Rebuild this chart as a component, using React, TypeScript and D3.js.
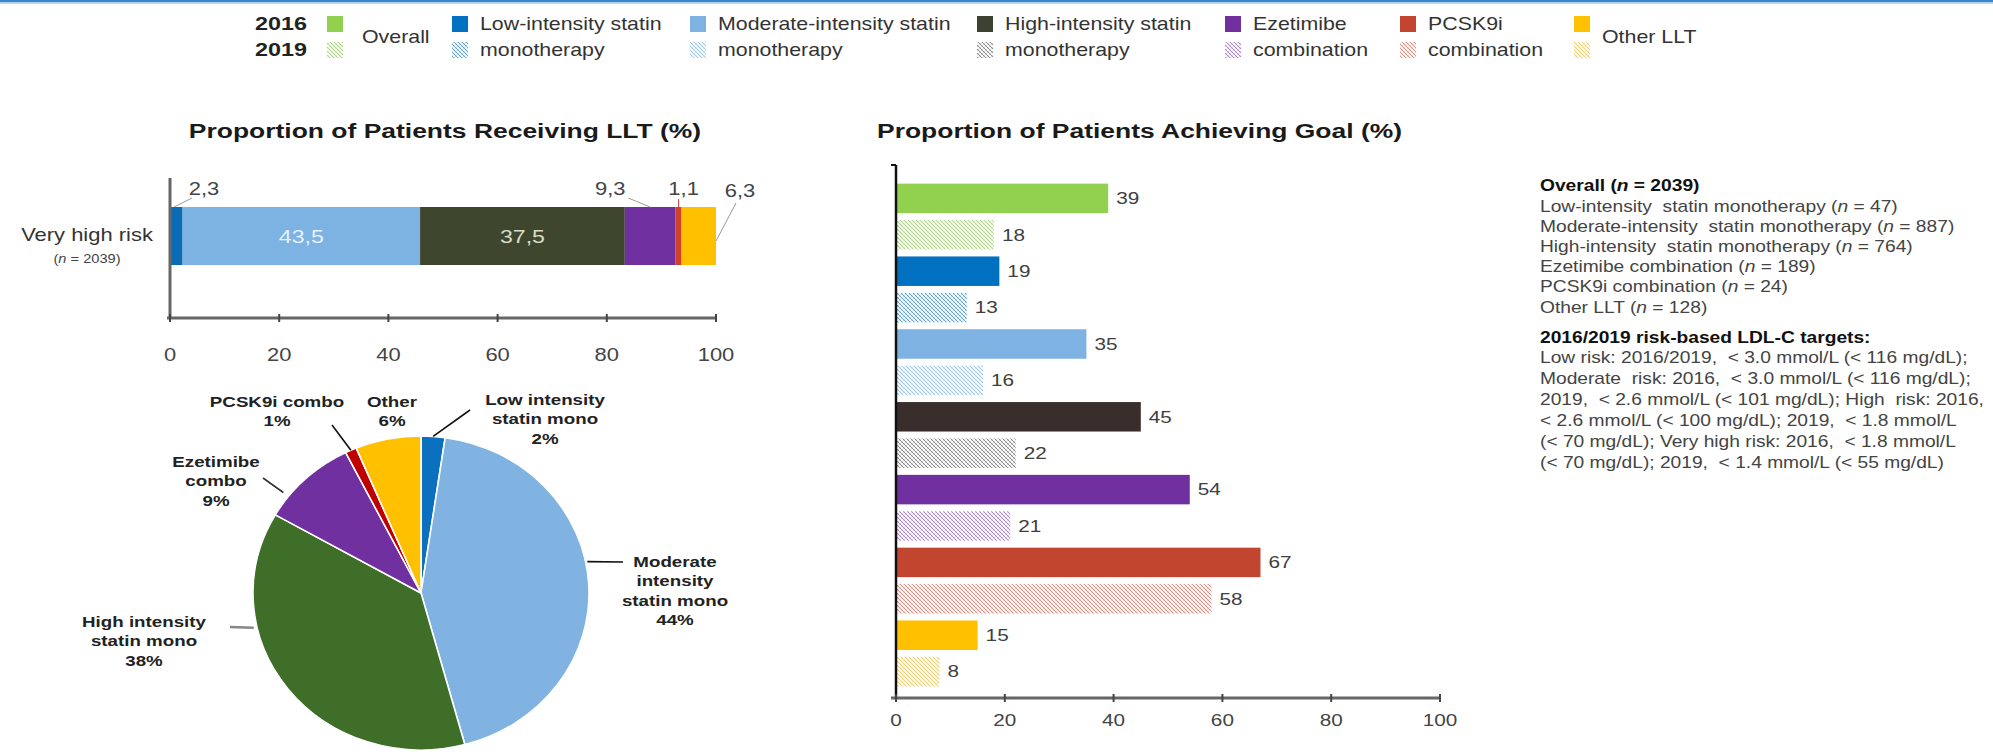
import React from 'react';
import * as d3 from 'd3';

const W = 1993;
const H = 752;
const FONT = "'Liberation Sans', Arial, Helvetica, sans-serif";
const SX = 1.22;

// ---------- data ----------
const goalCategories = ['Overall', 'Low-intensity statin monotherapy', 'Moderate-intensity statin monotherapy', 'High-intensity statin monotherapy', 'Ezetimibe combination', 'PCSK9i combination', 'Other LLT'];
const goal2016 = [39, 19, 35, 45, 54, 67, 15];
const goal2019 = [18, 13, 16, 22, 21, 58, 8];
const goalSolid = ['#92d050', '#0070c0', '#7eb2e2', '#3a2e2c', '#7030a0', '#c2452f', '#ffc000'];
const goalHatch = ['#8fc85a', '#2f86cc', '#7fb2e2', '#666666', '#9461c0', '#d46a5a', '#efbb3a'];

const lltCategories = ['Low-intensity statin mono', 'Moderate-intensity statin mono', 'High-intensity statin mono', 'Ezetimibe combo', 'PCSK9i combo', 'Other'];
const lltShare = [2.3, 43.5, 37.5, 9.3, 1.1, 6.3];
const lltShareLabels = ['2,3', '43,5', '37,5', '9,3', '1,1', '6,3'];
const lltBarColors = ['#0b6cb5', '#7db3e2', '#3f462e', '#7030a0', '#d0402a', '#ffc000'];
const pieColors = ['#0b70c0', '#80b3e2', '#3e6e27', '#7030a0', '#c00000', '#ffc000'];
const pieLabels = [
  ['Low intensity', 'statin mono', '2%'],
  ['Moderate', 'intensity', 'statin mono', '44%'],
  ['High intensity', 'statin mono', '38%'],
  ['Ezetimibe', 'combo', '9%'],
  ['PCSK9i combo', '1%'],
  ['Other', '6%'],
];
const xTicks = [0, 20, 40, 60, 80, 100];

const legendFirst = ['Overall', 'Low-intensity statin', 'Moderate-intensity statin', 'High-intensity statin', 'Ezetimibe', 'PCSK9i', 'Other LLT'];
const legendSecond = ['', 'monotherapy', 'monotherapy', 'monotherapy', 'combination', 'combination', ''];
const legendSquareColors = ['#92d050', '#0070c0', '#7eb2e2', '#3c4230', '#7030a0', '#c2452f', '#ffc000'];

const countNames = ['Low-intensity  statin monotherapy', 'Moderate-intensity  statin monotherapy', 'High-intensity  statin monotherapy', 'Ezetimibe combination', 'PCSK9i combination', 'Other LLT'];
const countValues = [47, 887, 764, 189, 24, 128];
const targetLines = [
  'Low risk: 2016/2019,  < 3.0 mmol/L (< 116 mg/dL);',
  'Moderate  risk: 2016,  < 3.0 mmol/L (< 116 mg/dL);',
  '2019,  < 2.6 mmol/L (< 101 mg/dL); High  risk: 2016,',
  '< 2.6 mmol/L (< 100 mg/dL); 2019,  < 1.8 mmol/L',
  '(< 70 mg/dL); Very high risk: 2016,  < 1.8 mmol/L',
  '(< 70 mg/dL); 2019,  < 1.4 mmol/L (< 55 mg/dL)',
];

// ---------- helpers ----------
type TProps = {
  x: number; y: number; size?: number; weight?: string | number; anchor?: string;
  fill?: string; sx?: number; italic?: boolean; children?: React.ReactNode;
};
function T({ x, y, size = 17, weight = 'normal', anchor = 'start', fill = '#333', sx = SX, italic = false, children }: TProps) {
  return (
    <text
      transform={`translate(${x},${y}) scale(${sx},1)`}
      fontSize={size}
      fontWeight={weight as any}
      fontStyle={italic ? 'italic' : 'normal'}
      textAnchor={anchor as any}
      dominantBaseline="central"
      fill={fill}
      fontFamily={FONT}
    >
      {children}
    </text>
  );
}

function Hatch({ id, color }: { id: string; color: string }) {
  return (
    <pattern id={id} width={4} height={4} patternUnits="userSpaceOnUse">
      <rect width={4} height={4} fill="#ffffff" />
      <path d="M0,0 L4,4 M-1,3 L1,5 M3,-1 L5,1" stroke={color} strokeWidth={0.9} opacity={0.85} />
      <path d="M0,4 L4,0 M-1,1 L1,-1 M3,5 L5,3" stroke={color} strokeWidth={0.6} opacity={0.5} />
    </pattern>
  );
}

// ---------- left stacked bar ----------
function StackedBar() {
  const x = d3.scaleLinear().domain([0, 100]).range([170, 716]);
  const barTop = 207;
  const barH = 58;
  const axisY = 318;
  let acc = 0;
  const segs = lltShare.map((v, i) => {
    const s = { x0: acc, x1: acc + v, i };
    acc += v;
    return s;
  });
  const midY = barTop + barH / 2;
  const labelY = 189;
  const cxSeg = (i: number) => (x(segs[i].x0) + x(segs[i].x1)) / 2;
  return (
    <g>
      <T x={445} y={131} size={21} weight="bold" anchor="middle" fill="#1a1a1a" sx={1.26}>Proportion of Patients Receiving LLT (%)</T>
      {segs.map((s) => (
        <rect key={s.i} x={x(s.x0)} y={barTop} width={x(s.x1) - x(s.x0)} height={barH} fill={lltBarColors[s.i]} />
      ))}
      {/* inside labels */}
      <T x={cxSeg(1)} y={midY} size={19} anchor="middle" fill="#e8f0fa">{lltShareLabels[1]}</T>
      <T x={cxSeg(2)} y={midY} size={19} anchor="middle" fill="#d9dcc6">{lltShareLabels[2]}</T>
      {/* outside labels with leader lines */}
      <line x1={x(segs[0].x0) + 4} y1={barTop} x2={x(segs[0].x0) + 22} y2={barTop - 9} stroke="#9a9a9a" strokeWidth={1} />
      <T x={x(segs[0].x0) + 34} y={labelY} size={18} anchor="middle" fill="#444">{lltShareLabels[0]}</T>
      <line x1={cxSeg(3)} y1={barTop} x2={cxSeg(3) - 22} y2={barTop - 9} stroke="#9a9a9a" strokeWidth={1} />
      <T x={cxSeg(3) - 40} y={labelY} size={18} anchor="middle" fill="#444">{lltShareLabels[3]}</T>
      <line x1={cxSeg(4)} y1={barTop} x2={cxSeg(4)} y2={barTop - 8} stroke="#c04030" strokeWidth={1} />
      <T x={cxSeg(4) + 5} y={labelY} size={18} anchor="middle" fill="#444">{lltShareLabels[4]}</T>
      <line x1={x(segs[5].x1)} y1={midY + 5} x2={x(segs[5].x1) + 20} y2={barTop - 4} stroke="#9a9a9a" strokeWidth={1} />
      <T x={x(segs[5].x1) + 24} y={labelY + 2} size={18} anchor="middle" fill="#444">{lltShareLabels[5]}</T>
      {/* category label */}
      <T x={87} y={midY - 1} size={18} anchor="middle" fill="#333">Very high risk</T>
      <T x={87} y={midY + 23} size={12} anchor="middle" fill="#444">
        (<tspan fontStyle="italic">n</tspan> = 2039)
      </T>
      {/* axes */}
      <line x1={x(0)} y1={178} x2={x(0)} y2={axisY} stroke="#666" strokeWidth={3} />
      <line x1={x(0) - 3} y1={axisY} x2={x(100)} y2={axisY} stroke="#666" strokeWidth={3} />
      {xTicks.map((t) => (
        <g key={t}>
          <line x1={x(t)} y1={axisY - 4} x2={x(t)} y2={axisY + 4} stroke="#444" strokeWidth={2} />
          <T x={x(t)} y={355} size={18} anchor="middle" fill="#444">{t}</T>
        </g>
      ))}
    </g>
  );
}

// ---------- pie ----------
function Pie() {
  const cx = 421;
  const cy = 593;
  const rx = 168;
  const ry = 157;
  const arcs = d3.pie<number>().sort(null).value((d) => d)(lltShare);
  const arc = d3.arc<d3.PieArcDatum<number>>().innerRadius(0).outerRadius(rx);
  const pt = (a: number, k: number) => [cx + k * rx * Math.sin(a), cy - k * ry * Math.cos(a)];
  const mid = (i: number) => (arcs[i].startAngle + arcs[i].endAngle) / 2;
  const deg = (d: number) => (d * Math.PI) / 180;
  const layout: Array<{ lx: number; ly: number; a?: number; k?: number; ex?: number; ey?: number; lead?: string }> = [
    { lx: 124, ly: -193, a: mid(0), k: 1.0, ex: 49, ey: -183, lead: '#111' },
    { lx: 254, ly: -31, a: deg(78.6), k: 1.01, ex: 202, ey: -31, lead: '#111' },
    { lx: -277, ly: 29, a: deg(257.5), k: 1.02, ex: -191, ey: 34, lead: '#888' },
    { lx: -205, ly: -131, a: deg(308), k: 1.04, ex: -158, ey: -115, lead: '#333' },
    { lx: -144, ly: -191, a: mid(4), k: 1.0, ex: -89, ey: -168, lead: '#111' },
    { lx: -29, ly: -191 },
  ];
  return (
    <g>
      <g transform={`translate(${cx},${cy}) scale(1,${ry / rx})`}>
        {arcs.map((a, i) => (
          <path key={i} d={arc(a) || ''} fill={pieColors[i]} stroke="#ffffff" strokeWidth={1.6} />
        ))}
      </g>
      {layout.map((L, i) => {
        const lines = pieLabels[i];
        let lead = null;
        if (L.a !== undefined) {
          const [x1, y1] = pt(L.a, L.k!);
          lead = <line x1={x1} y1={y1} x2={cx + L.ex!} y2={cy + L.ey!} stroke={L.lead} strokeWidth={L.lead === '#888' ? 2.5 : 1.6} />;
        }
        return (
          <g key={i}>
            {lead}
            {lines.map((s, j) => (
              <T key={j} x={cx + L.lx} y={cy + L.ly + j * 19.5} size={15} weight="bold" anchor="middle" fill="#222" sx={1.25}>{s}</T>
            ))}
          </g>
        );
      })}
    </g>
  );
}

// ---------- right grouped bars ----------
function GoalBars() {
  const x = d3.scaleLinear().domain([0, 100]).range([896, 1440]);
  const rows = goalCategories.flatMap((c, i) => [
    { key: `${i}-2016`, v: goal2016[i], i, hatch: false },
    { key: `${i}-2019`, v: goal2019[i], i, hatch: true },
  ]);
  const y = d3.scaleBand<string>().domain(rows.map((r) => r.key)).range([180, 690]).paddingInner(0.19).paddingOuter(0.1);
  const axisY = 698;
  return (
    <g>
      <T x={877} y={131} size={21} weight="bold" anchor="start" fill="#1a1a1a" sx={1.26}>Proportion of Patients Achieving  Goal (%)</T>
      {rows.map((r) => (
        <g key={r.key}>
          <rect
            x={x(0)}
            y={y(r.key)!}
            width={x(r.v) - x(0)}
            height={y.bandwidth()}
            fill={r.hatch ? `url(#hatch-${r.i})` : goalSolid[r.i]}
          />
          <T x={x(r.v) + 8} y={y(r.key)! + y.bandwidth() / 2} size={17} fill="#404040">{r.v}</T>
        </g>
      ))}
      <line x1={x(0)} y1={165} x2={x(0)} y2={axisY} stroke="#111" strokeWidth={2.5} />
      <line x1={x(0) - 5} y1={165} x2={x(0)} y2={165} stroke="#111" strokeWidth={2} />
      <line x1={x(0) - 5} y1={axisY} x2={x(100)} y2={axisY} stroke="#666" strokeWidth={3} />
      {xTicks.map((t) => (
        <g key={t}>
          <line x1={x(t)} y1={axisY - 4} x2={x(t)} y2={axisY + 4} stroke="#444" strokeWidth={2} />
          <T x={x(t)} y={720} size={17} anchor="middle" fill="#444">{t}</T>
        </g>
      ))}
    </g>
  );
}

// ---------- legend ----------
function Legend() {
  const sqX = [327, 452, 690, 977, 1225, 1400, 1574];
  const row1 = 24;
  const row2 = 50;
  return (
    <g>
      <T x={255} y={row1} size={18} weight="bold" fill="#222" sx={1.3}>2016</T>
      <T x={255} y={row2} size={18} weight="bold" fill="#222" sx={1.3}>2019</T>
      {legendFirst.map((lab, i) => {
        const tx = sqX[i] + (i === 0 ? 35 : 28);
        return (
          <g key={i}>
            <rect x={sqX[i]} y={row1 - 8} width={16} height={16} fill={legendSquareColors[i]} />
            <rect x={sqX[i]} y={row2 - 8} width={16} height={16} fill={`url(#hatch-${i})`} />
            {legendSecond[i] ? (
              <>
                <T x={tx} y={row1} size={17.5} fill="#333">{lab}</T>
                <T x={tx} y={row2} size={17.5} fill="#333">{legendSecond[i]}</T>
              </>
            ) : (
              <T x={tx} y={(row1 + row2) / 2} size={17.5} fill="#333">{lab}</T>
            )}
          </g>
        );
      })}
    </g>
  );
}

// ---------- notes ----------
function Notes() {
  const x0 = 1540;
  const y0 = 186;
  const lh = 20.2;
  const sx = 1.2;
  return (
    <g>
      <T x={x0} y={y0} size={16} weight="bold" fill="#111" sx={sx}>
        Overall (<tspan fontStyle="italic">n</tspan> = 2039)
      </T>
      {countNames.map((nm, i) => (
        <T key={i} x={x0} y={y0 + (i + 1) * lh} size={16} fill="#444" sx={sx}>
          <tspan style={{ whiteSpace: 'pre' }}>{nm} (</tspan><tspan fontStyle="italic">n</tspan> = {countValues[i]})
        </T>
      ))}
      <T x={x0} y={338} size={16} weight="bold" fill="#111" sx={sx}>2016/2019  risk-based LDL-C targets:</T>
      {targetLines.map((s, i) => (
        <T key={i} x={x0} y={358 + i * 21} size={16} fill="#444" sx={sx}>
          <tspan style={{ whiteSpace: 'pre' }}>{s}</tspan>
        </T>
      ))}
    </g>
  );
}

export default function App() {
  return (
    <svg
      width={W}
      height={H}
      viewBox={`0 0 ${W} ${H}`}
      style={{ position: 'absolute', left: 0, top: 0, display: 'block', background: '#ffffff' }}
    >
      <defs>
        {goalHatch.map((c, i) => (
          <Hatch key={i} id={`hatch-${i}`} color={c} />
        ))}
      </defs>
      <rect x={0} y={0} width={W} height={H} fill="#ffffff" />
      <rect x={0} y={0} width={W} height={2.5} fill="#3a86c6" />
      <rect x={0} y={2.5} width={W} height={1.5} fill="#b9d9f1" />
      <Legend />
      <StackedBar />
      <Pie />
      <GoalBars />
      <Notes />
    </svg>
  );
}
